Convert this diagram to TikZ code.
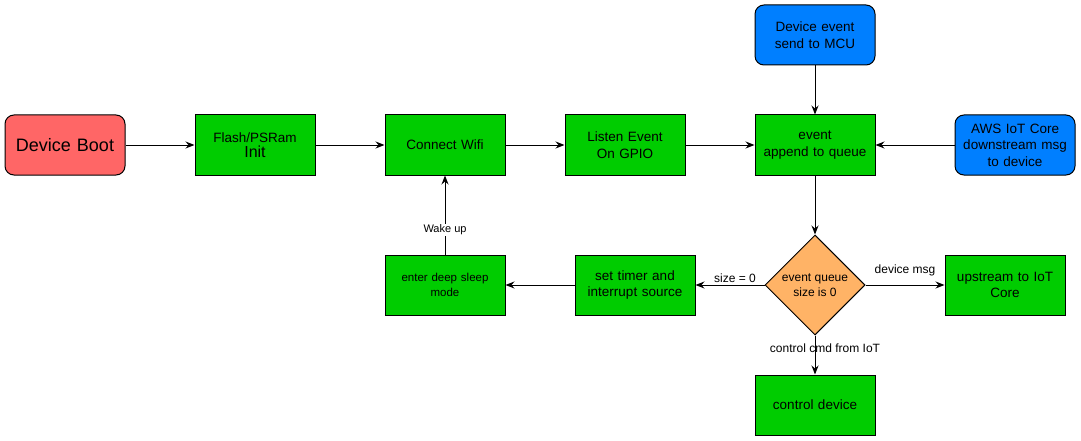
\documentclass[tikz,border=0pt]{standalone}
\usepackage{fontspec}
\setmainfont{Liberation Sans}
\usetikzlibrary{arrows.meta,shapes.geometric}
\definecolor{boxgreen}{HTML}{00CC00}
\definecolor{bootred}{HTML}{FF6666}
\definecolor{srcblue}{HTML}{007FFF}
\definecolor{decorange}{HTML}{FFB366}
\begin{document}
\begin{tikzpicture}[x=1pt,y=-1pt,
  base/.style={draw=black,line width=1pt,minimum width=120pt,minimum height=60pt,
    inner sep=2pt,align=center,text width=116pt,font=\fontsize{13.5}{16.5}\selectfont},
  proc/.style={base,fill=boxgreen},
  src/.style={base,fill=srcblue,rounded corners=9pt},
  boot/.style={base,fill=bootred,rounded corners=9pt,font=\fontsize{18}{21}\selectfont},
  decision/.style={diamond,draw=black,line width=1pt,fill=decorange,minimum width=100pt,
    minimum height=100pt,inner sep=0pt,align=center,aspect=1,font=\fontsize{12}{15}\selectfont},
  flow/.style={draw=black,line width=1pt,-{Stealth[length=9pt,width=7pt,inset=3pt]}},
  lbl/.style={font=\fontsize{12}{14}\selectfont,fill=white,inner sep=1pt}]
\useasboundingbox (0,0) rectangle (1081,441);
\fill[white] (0,0) rectangle (1081,441);

\node[boot] (boot) at (65,145) {Device Boot};
\node[proc] (flash) at (255,145) {{\fontsize{13.5}{15}\selectfont Flash/PSRam}\\[-1pt]{\fontsize{16}{18}\selectfont Init}};
\node[proc] (wifi) at (445,145) {Connect Wifi};
\node[proc] (listen) at (625,145) {Listen Event\\On GPIO};
\node[proc] (queue) at (815,145) {event\\append to queue};
\node[src] (devev) at (815,35) {Device event\\send to MCU};
\node[src] (aws) at (1015,145) {AWS IoT Core\\downstream msg\\to device};
\node[decision] (dec) at (815,285) {event queue\\size is 0};
\node[proc] (timer) at (635,285) {set timer and\\interrupt source};
\node[proc,font=\fontsize{11.5}{14.5}\selectfont] (sleep) at (445,285) {enter deep sleep\\mode};
\node[proc] (up) at (1005,285) {upstream to IoT\\Core};
\node[proc] (ctrl) at (815,405) {control device};

\draw[flow] (boot) -- (flash);
\draw[flow] (flash) -- (wifi);
\draw[flow] (wifi) -- (listen);
\draw[flow] (listen) -- (queue);
\draw[flow] (devev) -- (queue);
\draw[flow] (aws) -- (queue);
\draw[flow] (queue) -- (dec);
\draw[flow] (dec) -- node[lbl,above,pos=0.5,yshift=1pt,xshift=5pt] {size = 0} (timer);
\draw[flow] (timer) -- (sleep);
\draw[flow] (sleep) -- node[lbl,pos=0.31,font=\fontsize{11}{13}\selectfont] {Wake up} (wifi);
\draw[flow] (dec) -- node[lbl,above,pos=0.5,yshift=8pt,fill=none] {device msg} (up);
\draw[flow] (dec) -- node[lbl,pos=0.32,xshift=10pt,fill=none] {control cmd from IoT} (ctrl);
\end{tikzpicture}
\end{document}
